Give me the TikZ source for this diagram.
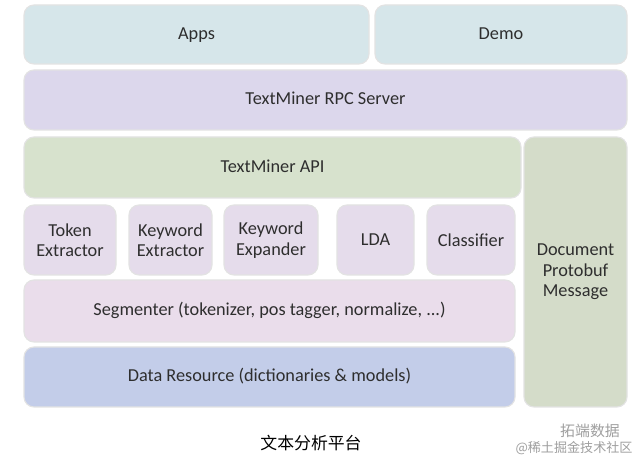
\documentclass[tikz,border=0pt]{standalone}
\usepackage{fontspec}
\setmainfont{Carlito}
\newfontfamily\cjkfont{Noto Sans CJK SC}
\usepackage{xcolor}
\usetikzlibrary{positioning}

\definecolor{appblue}{HTML}{D6E6EA}
\definecolor{rpcpurple}{HTML}{DCD7EC}
\definecolor{apigreen}{HTML}{D7E2CD}
\definecolor{docgreen}{HTML}{D4DCC9}
\definecolor{modpink}{HTML}{E5DCEB}
\definecolor{segpink}{HTML}{EADDEB}
\definecolor{datablue}{HTML}{C3CDE9}
\definecolor{txtgray}{HTML}{2E2E2E}

\begin{document}
\begin{tikzpicture}[
  layer/.style={draw=gray!22, line width=0.8pt, rounded corners=0.25cm, align=center,
    text=txtgray, font=\fontsize{13}{14.5}\selectfont, inner sep=0pt},
  oneline/.style={layer, text height=1.9ex, text depth=0.5ex},
  modbox/.style={layer, fill=modpink, minimum width=#1, minimum height=1.75cm},
  mark text/.style={text=gray!75, font=\cjkfont\fontsize{9.3}{10}\selectfont}
]
\useasboundingbox[fill=white] (0,0) rectangle (16,11.5);

% top row
\node[oneline, fill=appblue, minimum width=8.625cm, minimum height=1.475cm] (apps) at (4.9125,10.6375) {Apps};
\node[oneline, fill=appblue, minimum width=6.3cm, minimum height=1.475cm] (demo) at (12.525,10.6375) {Demo};
\node[oneline, fill=rpcpurple, minimum width=15.075cm, minimum height=1.5cm] (rpc) at (8.1375,9.0) {TextMiner RPC Server};

% api + side column
\node[oneline, fill=apigreen, minimum width=12.425cm, minimum height=1.525cm] (api) at (6.8125,7.3125) {TextMiner API};
\node[layer, fill=docgreen, minimum width=2.575cm, minimum height=6.75cm] (doc) at (14.3875,4.7) {Document\\Protobuf\\Message};

% modules
\node[modbox=2.3cm] (token) at (1.75,5.5) {Token\\Extractor};
\node[modbox=2.075cm] (kwext) at (4.2625,5.5) {Keyword\\Extractor};
\node[modbox=2.35cm] (kwexp) at (6.775,5.5) {Keyword\\Expander};
\node[modbox=1.925cm] (lda) at (9.3875,5.5) {LDA};
\node[modbox=2.2cm] (cls) at (11.775,5.5) {Classifier};

% bottom layers
\node[oneline, fill=segpink, minimum width=12.275cm, minimum height=1.55cm] (seg) at (6.7375,3.725) {Segmenter (tokenizer, pos tagger, normalize, ...)};
\node[oneline, fill=datablue, minimum width=12.275cm, minimum height=1.5cm] (data) at (6.7375,2.075) {Data Resource (dictionaries \& models)};

% caption
\node[text=black, font=\cjkfont\fontsize{12}{14}\selectfont] (caption) at (7.775,0.43) {文本分析平台};
\node[mark text, font=\cjkfont\fontsize{10.6}{11}\selectfont] (mark1) at (14.75,0.725) {拓端数据};
\node[mark text] (mark2) at (14.35,0.3) {@稀土掘金技术社区};
\end{tikzpicture}
\end{document}
